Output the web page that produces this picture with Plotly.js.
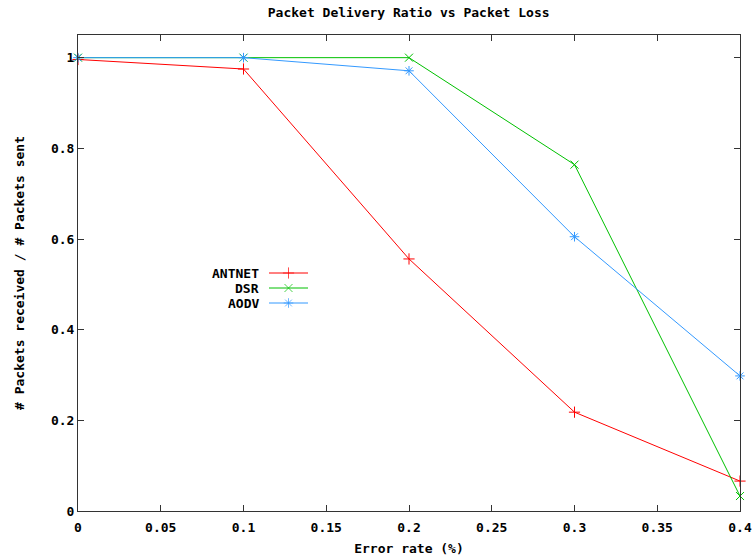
<!DOCTYPE html>
<html>
<head>
<meta charset="utf-8">
<script src="https://cdn.plot.ly/plotly-3.0.1.min.js"></script>
<style>
  html, body { margin: 0; padding: 0; background: #fff; }
  #chart { width: 754px; height: 560px; }
</style>
</head>
<body>
<div id="chart"></div>
<script>
// Error rates tested and the delivery ratio measured for each routing protocol
const errorRate = [0, 0.1, 0.2, 0.3, 0.4];
const antnet = [0.996, 0.975, 0.556, 0.218, 0.066];
const dsr    = [1.0, 1.0, 1.0, 0.764, 0.033];
const aodv   = [1.0, 1.0, 0.971, 0.605, 0.298];

const seriesNames = ['ANTNET', 'DSR', 'AODV'];
const xTickVals = [0, 0.05, 0.1, 0.15, 0.2, 0.25, 0.3, 0.35, 0.4];
const xTickText = ['0', '0.05', '0.1', '0.15', '0.2', '0.25', '0.3', '0.35', '0.4'];
const yTickVals = [0, 0.2, 0.4, 0.6, 0.8, 1];
const yTickText = ['0', '0.2', '0.4', '0.6', '0.8', '1'];
const xRange = [0, 0.4];

const colors = ['#ff0000', '#00c000', '#3399ff'];
const symbols = ['cross-thin-open', 'x-thin-open', 'asterisk-open'];
const FONT = 'DejaVu Sans Mono, monospace';
const MARK = 8;

const values = [antnet, dsr, aodv];
const traces = values.map((v, i) => ({
  x: errorRate, y: v, type: 'scatter', mode: 'lines+markers',
  name: seriesNames[i],
  line: { color: colors[i], width: 1 },
  marker: { symbol: symbols[i], size: MARK, color: colors[i], line: { color: colors[i], width: 1 } },
  showlegend: false, cliponaxis: false
}));

// Key drawn inside the plot: label on the left, sample line with its marker on the right
const keyX0 = 269, keyX1 = 308, keyRows = [273, 288, 303];
seriesNames.forEach((name, i) => {
  traces.push({
    x: [keyX0, (keyX0 + keyX1) / 2, keyX1], y: [keyRows[i], keyRows[i], keyRows[i]],
    xaxis: 'x2', yaxis: 'y2', type: 'scatter', mode: 'lines+markers',
    line: { color: colors[i], width: 1 },
    marker: { symbol: symbols[i], size: [0, MARK, 0], color: colors[i], line: { color: colors[i], width: 1 } },
    showlegend: false, hoverinfo: 'skip'
  });
});
const keyLabels = seriesNames.map((name, i) => ({
  xref: 'x2', yref: 'y2', x: 261, y: keyRows[i], text: name, showarrow: false,
  xanchor: 'right', yanchor: 'middle',
  font: { family: FONT, size: 13, color: '#000', weight: 'bold' }
}));

const tickFont = { family: FONT, size: 13, color: '#000', weight: 'bold' };
const axisCommon = {
  showgrid: false, zeroline: false, showline: true, linecolor: '#333', linewidth: 1,
  mirror: 'ticks', ticks: 'inside', ticklen: 6, tickcolor: '#333', tickwidth: 1,
  tickfont: tickFont
};

const layout = {
  width: 754, height: 560,
  margin: { l: 78, r: 14, t: 35, b: 49 },
  paper_bgcolor: '#fff', plot_bgcolor: '#fff',
  title: {
    text: 'Packet Delivery Ratio vs Packet Loss',
    font: { family: FONT, size: 13, color: '#000', weight: 'bold' },
    x: 0.542, xanchor: 'center', y: 0.977, yanchor: 'middle'
  },
  // labelled x axis: invisible outside ticks give the labels their gap below the frame
  xaxis: {
    range: xRange, tickvals: xTickVals, ticktext: xTickText,
    showgrid: false, zeroline: false, showline: false,
    ticks: 'outside', ticklen: 4, tickcolor: 'rgba(0,0,0,0)', tickfont: tickFont,
    title: { text: 'Error rate (%)', standoff: 10,
      font: { family: FONT, size: 13, color: '#000', weight: 'bold' } }
  },
  // frame and inward tick marks along bottom and top
  xaxis3: Object.assign({}, axisCommon, {
    overlaying: 'x', anchor: 'y', side: 'bottom', range: xRange, tickvals: xTickVals,
    showticklabels: false
  }),
  yaxis: Object.assign({}, axisCommon, {
    range: [0, 1.05], tickvals: yTickVals, ticktext: yTickText,
    title: { text: '# Packets received / # Packets sent', standoff: 23,
      font: { family: FONT, size: 13, color: '#000', weight: 'bold' } }
  }),
  xaxis2: { overlaying: 'x', anchor: 'y2', range: [78, 740], visible: false, fixedrange: true },
  yaxis2: { overlaying: 'y', anchor: 'x2', range: [511, 35], visible: false, fixedrange: true },
  annotations: keyLabels,
  showlegend: false
};

// empty trace so the frame axis is drawn
traces.push({ x: [], y: [], xaxis: 'x3', yaxis: 'y', type: 'scatter', mode: 'lines', showlegend: false, hoverinfo: 'skip' });

Plotly.newPlot('chart', traces, layout, { staticPlot: true });
</script>
</body>
</html>
